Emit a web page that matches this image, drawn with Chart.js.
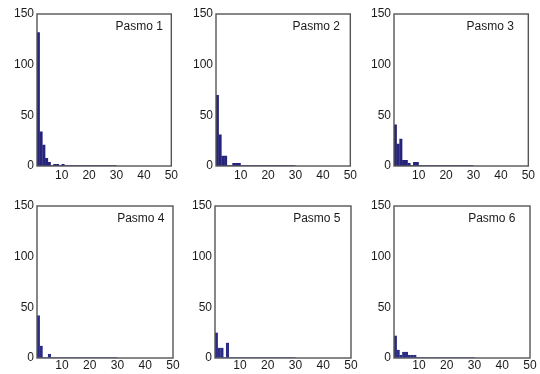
<!DOCTYPE html>
<html>
<head>
<meta charset="utf-8">
<script src="https://cdn.jsdelivr.net/npm/chart.js@4"></script>
<style>
  html, body { margin: 0; padding: 0; background: #ffffff; }
  body { width: 540px; height: 374px; position: relative; overflow: hidden; }
  canvas { position: absolute; }
</style>
</head>
<body>
<canvas id="c1"></canvas>
<canvas id="c2"></canvas>
<canvas id="c3"></canvas>
<canvas id="c4"></canvas>
<canvas id="c5"></canvas>
<canvas id="c6"></canvas>
<script>
// ---- data (counts per unit-wide bin, first bin starts at x = 1) ----
const panelTitles = ['Pasmo 1', 'Pasmo 2', 'Pasmo 3', 'Pasmo 4', 'Pasmo 5', 'Pasmo 6'];
const firstBin = 1;
const rangeEnd = 30;           // histogram range (zero-count bins drawn as baseline)
const counts1 = [132, 34, 21, 8, 4, 0, 2, 2, 0, 2];
const counts2 = [70, 31, 10, 10, 0, 0, 3, 3, 3];
const counts3 = [41, 22, 27, 6, 6, 3, 0, 4, 4];
const counts4 = [42, 12, 0, 0, 4];
const counts5 = [25, 10, 10, 0, 15];
const counts6 = [22, 8, 3, 6, 6, 3, 3, 3];
const xTicks = [10, 20, 30, 40, 50];
const yTicks = [0, 50, 100, 150];
const xMin = 1, xMax = 50, yMin = 0, yMax = 150;

const allCounts = [counts1, counts2, counts3, counts4, counts5, counts6];

// ---- layout / style ----
const canvasLeft = [0, 179, 357, 0, 178, 357];
const canvasTop = [0, 0, 0, 192, 192, 192];
const canvasH = [186, 186, 186, 182, 182, 182];
const xAxisH = [20, 20, 20, 16, 16, 16];
const xTickPad = [2, 2, 2, 0, 0, 0];
const titleInset = [8.5, 10.5, 14.5, 8.5, 10.5, 14.5];
const baseColor = ['#2b2d84', '#2b2d84', '#2b2d84', '#4a62c6', '#4a62c6', '#4a62c6'];
const barColor = ['#26247a', '#26247a', '#26247a', '#2a2c86', '#2a2c86', '#2a2c86'];
const FONT = "'Liberation Sans', Arial, Helvetica, sans-serif";

const framePlugin = {
  id: 'frame',
  afterDraw(chart, args, opts) {
    const a = chart.chartArea, ctx = chart.ctx;
    ctx.save();
    ctx.strokeStyle = '#555555';
    ctx.lineWidth = 1.4;
    ctx.strokeRect(a.left, a.top, a.right - a.left, a.bottom - a.top);
    ctx.fillStyle = '#1a1a1a';
    ctx.font = '12px ' + FONT;
    ctx.textAlign = 'right';
    ctx.textBaseline = 'middle';
    ctx.fillText(opts.title, a.right - opts.inset, a.top + 13);
    ctx.restore();
  }
};

allCounts.forEach((counts, p) => {
  const cv = document.getElementById('c' + (p + 1));
  cv.width = 180; cv.height = canvasH[p];
  cv.style.left = canvasLeft[p] + 'px';
  cv.style.top = canvasTop[p] + 'px';
  cv.style.width = '180px'; cv.style.height = canvasH[p] + 'px';

  const barData = counts.map((c, i) => ({ x: firstBin + i + 0.5, y: c }));
  const baseData = [{ x: firstBin, y: 0 }, { x: rangeEnd, y: 0 }];

  new Chart(cv, {
    type: 'bar',
    data: {
      datasets: [
        {
          type: 'bar',
          data: barData,
          backgroundColor: barColor[p],
          borderWidth: 0,
          barPercentage: 1.1,
          categoryPercentage: 1,
          order: 2
        },
        {
          type: 'line',
          data: baseData,
          borderColor: baseColor[p],
          borderWidth: 1.5,
          pointRadius: 0,
          fill: false,
          order: 1
        }
      ]
    },
    options: {
      responsive: false,
      animation: false,
      devicePixelRatio: 1,
      layout: { padding: { left: 0, right: 7, top: 14, bottom: 0 } },
      plugins: {
        legend: { display: false },
        tooltip: { enabled: false },
        frame: { title: panelTitles[p], inset: titleInset[p] }
      },
      scales: {
        x: {
          type: 'linear',
          min: xMin, max: xMax,
          offset: false,
          grid: { display: false, drawTicks: false },
          border: { display: false },
          ticks: {
            autoSkip: false, maxRotation: 0,
            padding: xTickPad[p],
            color: '#1a1a1a',
            font: { family: FONT, size: 12 }
          },
          afterBuildTicks(scale) { scale.ticks = xTicks.map(v => ({ value: v })); },
          afterFit(scale) { scale.height = xAxisH[p]; }
        },
        y: {
          min: yMin, max: yMax,
          grid: { display: false, drawTicks: false },
          border: { display: false },
          ticks: {
            padding: 3,
            color: '#1a1a1a',
            font: { family: FONT, size: 12 }
          },
          afterBuildTicks(scale) { scale.ticks = yTicks.map(v => ({ value: v })); },
          afterFit(scale) { scale.width = 37; }
        }
      }
    },
    plugins: [framePlugin]
  });
});
</script>
</body>
</html>
